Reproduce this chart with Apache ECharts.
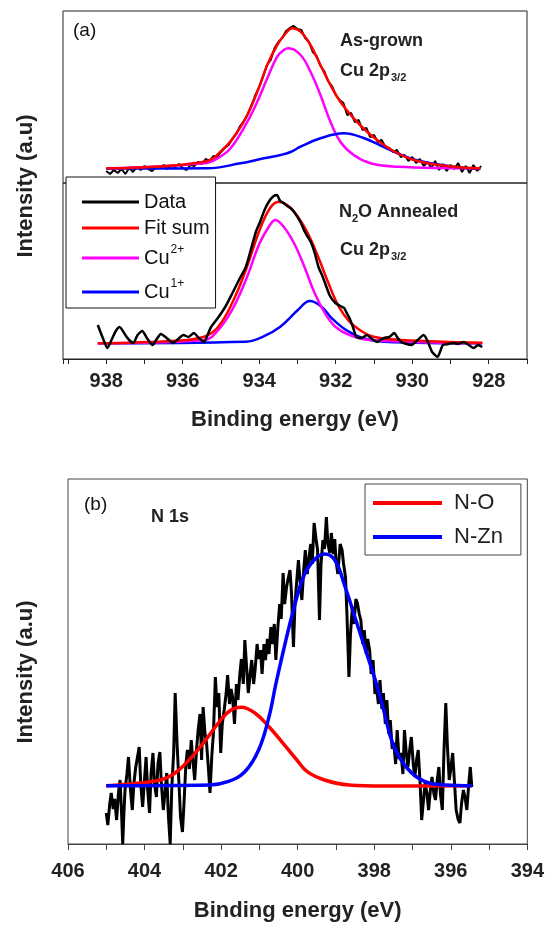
<!DOCTYPE html>
<html>
<head>
<meta charset="utf-8">
<script src="https://cdn.jsdelivr.net/npm/echarts@6/dist/echarts.min.js"></script>
<style>
  html, body { margin: 0; padding: 0; background: #fff; }
  #chart { width: 547px; height: 927px; }
</style>
</head>
<body>
<div id="chart"></div>
<script>
// (a) top: as-grown Cu 2p3/2  [binding energy, intensity]
var asGrownData = [
  [938.0,12],[937.9,9],[937.8,13],[937.7,10],[937.6,14],[937.5,9],[937.4,15],[937.3,11],[937.2,16],[937.1,13],
  [937.0,17],[936.9,14],[936.8,12],[936.7,16],[936.6,15],[936.5,18],[936.4,14],[936.3,17],[936.2,16],[936.1,19],
  [936.0,15],[935.9,13],[935.8,18],[935.7,17],[935.6,21],[935.5,19],[935.4,24],[935.3,22],[935.2,27],[935.1,26],
  [935.0,31],[934.9,35],[934.8,38],[934.7,44],[934.6,49],[934.5,57],[934.4,62],[934.3,69],[934.2,78],[934.1,88],
  [934.0,96],[933.9,106],[933.8,118],[933.7,123],[933.6,135],[933.5,141],[933.4,145],[933.3,152],[933.2,155],[933.1,157],
  [933.0,154],[932.9,153],[932.8,145],[932.7,141],[932.6,131],[932.5,127],[932.4,117],[932.3,112],[932.2,102],[932.1,97],
  [932.0,88],[931.9,83],[931.8,80],[931.7,68],[931.6,70],[931.5,61],[931.4,63],[931.3,53],[931.2,55],[931.1,46],
  [931.0,48],[930.9,41],[930.8,43],[930.7,36],[930.6,35],[930.5,31],[930.4,33],[930.3,26],[930.2,28],[930.1,22],
  [930.0,26],[929.9,20],[929.8,24],[929.7,17],[929.6,21],[929.5,15],[929.4,22],[929.3,13],[929.2,19],[929.1,12],
  [929.0,18],[928.9,14],[928.8,20],[928.7,11],[928.6,17],[928.5,10],[928.4,18],[928.3,12],[928.2,17]
];
var asGrownFit = [
  [938.0,14.7],[935.44,21.3],[934.92,34.7],[934.57,51.3],[934.31,68],[934.05,91.3],[933.79,118],[933.53,138],
  [933.3,150],[933.14,154.7],[932.92,151.3],[932.66,138],[932.40,118],[932.14,98],[931.88,81.3],[931.53,64.7],
  [931.18,51.3],[930.83,40.5],[930.40,30],[929.96,23],[929.44,18.7],[928.92,16.3],[928.22,14.5]
];
var asGrownCu2 = [
  [938.0,14.5],[935.44,19.7],[935.09,24.7],[934.75,34.7],[934.31,61.3],[934.05,81.3],[933.79,104.7],[933.53,126.3],
  [933.36,133],[933.23,134.7],[932.92,128],[932.66,111.3],[932.40,88],[932.14,61.3],[931.88,41.3],[931.53,28],
  [931.09,19.7],[930.40,16.3],[928.22,14.7]
];
var asGrownCu1 = [
  [938.0,14.5],[935.36,14.7],[934.49,19.7],[933.88,24.7],[933.44,28],[933.18,31],[932.92,36.3],[932.40,44.7],
  [931.79,49.7],[931.27,45],[930.83,37.5],[930.40,30],[929.96,23.5],[929.44,19.2],[928.92,16.3],[928.22,14]
];

// (a) bottom: N2O annealed Cu 2p3/2
var annealData = [
  [938.22,34],[938.10,22],[937.97,11],[937.85,20],[937.75,28],[937.65,32],[937.50,24],[937.40,19],[937.29,16],[937.18,24],
  [937.06,28],[936.92,20],[936.79,14],[936.68,20],[936.57,25],[936.42,21],[936.30,17],[936.25,16],[936.12,20],[935.98,24],
  [935.85,22],[935.71,26],[935.58,21],[935.44,17],[935.35,24],[935.26,32],[935.10,40],[934.89,52],[934.70,66],[934.53,79],
  [934.35,92],[934.20,112],[934.08,128],[933.99,136],[933.85,150],[933.72,159],[933.62,163],[933.54,164],[933.45,158],[933.36,156],
  [933.27,153],[933.18,151],[933.05,145],[932.91,136],[932.82,128],[932.73,122],[932.64,116],[932.55,106],[932.45,92],[932.36,84],
  [932.28,76],[932.15,63],[932.01,56],[931.88,53],[931.78,51],[931.70,45],[931.64,41],[931.55,32],[931.46,22],[931.32,21],
  [931.19,24],[931.05,20],[930.92,17],[930.83,19],[930.74,21],[930.60,22],[930.47,26],[930.38,21],[930.29,17],[930.15,15],
  [930.02,14],[929.86,19],[929.70,24],[929.60,18],[929.48,7],[929.34,2],[929.20,14],[929.05,15],[928.93,16],[928.80,15],
  [928.66,17],[928.52,14],[928.39,11],[928.28,14],[928.17,12]
];
var annealFit = [
  [938.22,15.7],[936.2,18.3],[935.44,22.3],[935.07,32.3],[934.71,55.7],[934.35,89],[933.99,129],[933.72,150.7],
  [933.50,157.3],[933.27,154],[932.99,142.3],[932.73,125.7],[932.46,102.3],[932.19,75.7],[931.92,52.3],[931.64,37.3],
  [931.37,29],[931.01,22.3],[930.29,19],[928.17,16.3]
];
var annealCu2 = [
  [938.22,15.7],[935.44,19],[935.07,29],[934.71,49],[934.35,79],[933.99,115.7],[933.72,134],[933.58,139],
  [933.36,132.3],[933.09,115.7],[932.82,92.3],[932.55,65.7],[932.28,45.7],[932.01,32.3],[931.64,24],[931.10,19],
  [928.17,15.7]
];
var annealCu1 = [
  [938.22,15.7],[934.35,17.3],[933.90,22.3],[933.45,32.3],[932.99,49],[932.68,58],[932.37,52.3],[932.10,40.7],
  [931.73,29],[931.28,20.7],[930.74,17.3],[928.17,15.7]
];

// (b) N 1s
var n1sData = [
  [405.00,31],[404.96,19],[404.91,40],[404.87,51],[404.82,35],[404.78,45],[404.73,24],[404.68,52],[404.64,64],[404.60,30],
  [404.57,0],[404.54,30],[404.51,54],[404.46,70],[404.42,87],[404.37,55],[404.32,34],[404.28,60],[404.23,77],[404.18,88],
  [404.14,97],[404.10,60],[404.05,37],[404.00,65],[403.96,87],[403.92,55],[403.87,31],[403.83,70],[403.78,91],[403.74,60],
  [403.69,47],[403.65,80],[403.60,92],[403.56,60],[403.51,34],[403.47,50],[403.42,71],[403.38,30],[403.33,0],[403.29,55],
  [403.24,91],[403.20,151],[403.15,100],[403.10,60],[403.06,27],[403.01,12],[402.97,40],[402.92,80],[402.88,94],[402.83,75],
  [402.78,104],[402.74,85],[402.69,64],[402.64,95],[402.60,114],[402.55,130],[402.51,84],[402.47,137],[402.42,110],[402.38,101],
  [402.33,75],[402.29,51],[402.24,90],[402.20,111],[402.15,167],[402.11,137],[402.06,151],[402.01,91],[401.97,120],[401.92,134],
  [401.87,150],[401.83,169],[401.78,140],[401.74,155],[401.70,147],[401.65,120],[401.60,160],[401.56,144],[401.51,170],[401.47,185],
  [401.42,160],[401.38,204],[401.33,175],[401.29,151],[401.24,170],[401.20,184],[401.15,160],[401.11,175],[401.06,200],[401.02,185],
  [400.97,194],[400.93,170],[400.88,200],[400.84,184],[400.79,205],[400.75,190],[400.70,217],[400.66,200],[400.61,220],[400.57,184],
  [400.52,215],[400.47,240],[400.43,225],[400.38,271],[400.34,240],[400.29,257],[400.25,265],[400.20,274],[400.16,250],[400.11,197],
  [400.07,240],[400.02,265],[399.98,284],[399.93,260],[399.89,244],[399.84,275],[399.80,294],[399.75,270],[399.71,284],[399.66,300],
  [399.62,280],[399.57,321],[399.52,305],[399.48,294],[399.43,224],[399.39,280],[399.34,304],[399.30,295],[399.25,327],[399.21,300],
  [399.16,291],[399.12,311],[399.07,290],[399.03,305],[399.00,284],[398.95,270],[398.89,300],[398.84,294],[398.80,280],[398.75,267],
  [398.71,227],[398.66,167],[398.62,210],[398.57,237],[398.53,220],[398.48,245],[398.44,241],[398.39,230],[398.35,224],[398.30,200],
  [398.26,214],[398.21,190],[398.17,205],[398.12,194],[398.08,170],[398.03,184],[397.98,150],[397.94,157],[397.89,140],[397.85,164],
  [397.80,135],[397.76,151],[397.71,120],[397.67,144],[397.62,110],[397.58,124],[397.53,95],[397.49,101],[397.44,80],[397.40,114],
  [397.35,85],[397.30,91],[397.25,70],[397.21,114],[397.16,90],[397.12,77],[397.07,95],[397.03,107],[396.98,80],[396.94,67],
  [396.89,85],[396.85,94],[396.80,60],[396.76,24],[396.71,45],[396.67,61],[396.62,50],[396.58,34],[396.53,55],[396.49,67],
  [396.44,50],[396.40,44],[396.35,65],[396.31,77],[396.27,50],[396.22,34],[396.18,90],[396.13,141],[396.09,100],[396.04,64],
  [396.00,75],[395.95,91],[395.90,60],[395.86,34],[395.81,25],[395.76,21],[395.72,40],[395.67,54],[395.62,45],[395.58,34],
  [395.53,60],[395.49,77],[395.45,57]
];
var n1sNO = [
  [405.0,58.3],[404.19,60.7],[403.46,65.7],[403.01,77.3],[402.47,100.7],[402.01,124],[401.74,134],[401.47,136.7],
  [401.11,130.7],[400.75,117.3],[400.38,100.7],[400.02,84],[399.75,72.3],[399.30,64],[398.66,59],[397.76,58],[395.45,58.3]
];
var n1sNZn = [
  [405.0,58.3],[402.29,59],[401.83,62.3],[401.38,72.3],[401.02,94],[400.75,127],[400.57,160],[400.38,192],
  [400.11,234],[399.84,268],[399.57,284],[399.30,290],[399.03,284],[398.75,256],[398.48,224],[398.21,192],
  [397.94,160],[397.76,135],[397.49,98],[397.12,75],[396.67,62.3],[396.13,59],[395.45,58.3]
];

var FONT = '"Liberation Sans", Arial, sans-serif';

function evenLabel(v) {
  var r = Math.round(v);
  return r % 2 === 0 ? String(r) : '';
}

function line(name, data, color, width, gi, smooth, z) {
  return {
    name: name, type: 'line', data: data,
    xAxisIndex: gi, yAxisIndex: gi,
    showSymbol: false, symbol: 'none', smooth: smooth,
    lineStyle: { color: color, width: width },
    itemStyle: { color: color },
    z: z, silent: true
  };
}

var hiddenY = function (gi, max) {
  return { type: 'value', gridIndex: gi, min: 0, max: max, show: false };
};

var chart = echarts.init(document.getElementById('chart'));
chart.setOption({
  animation: false,
  backgroundColor: '#fff',
  textStyle: { fontFamily: FONT },
  grid: [
    { left: 63, width: 464, top: 11, height: 172, show: true, borderColor: '#222', borderWidth: 1, backgroundColor: 'transparent' },
    { left: 63, width: 464, top: 183, height: 176, show: true, borderColor: '#222', borderWidth: 1, backgroundColor: 'transparent' },
    { left: 68, width: 460, top: 479, height: 365, show: true, borderColor: '#444', borderWidth: 1, backgroundColor: 'transparent' }
  ],
  xAxis: [
    { type: 'value', gridIndex: 0, min: 927, max: 939.13, inverse: true, show: false },
    {
      type: 'value', gridIndex: 1, min: 927, max: 939.13, interval: 1, inverse: true,
      axisLine: { show: true, lineStyle: { color: '#222', width: 1 } },
      axisTick: { show: true, length: 5, lineStyle: { color: '#222' } },
      splitLine: { show: false },
      axisLabel: { formatter: evenLabel, color: '#222', fontSize: 20, fontWeight: 'bold', margin: 12, fontFamily: FONT },
      name: 'Binding energy (eV)', nameLocation: 'middle', nameGap: 50,
      nameTextStyle: { color: '#222', fontSize: 22, fontWeight: 'bold', fontFamily: FONT }
    },
    {
      type: 'value', gridIndex: 2, min: 394, max: 406, interval: 1, inverse: true,
      axisLine: { show: true, lineStyle: { color: '#444', width: 1 } },
      axisTick: { show: true, length: 6, lineStyle: { color: '#444' } },
      splitLine: { show: false },
      axisLabel: { formatter: evenLabel, color: '#222', fontSize: 20, fontWeight: 'bold', margin: 17, fontFamily: FONT },
      name: 'Binding energy (eV)', nameLocation: 'middle', nameGap: 56,
      nameTextStyle: { color: '#222', fontSize: 22, fontWeight: 'bold', fontFamily: FONT }
    }
  ],
  yAxis: [hiddenY(0, 172), hiddenY(1, 176), hiddenY(2, 365)],
  legend: [
    {
      data: ['Data', 'Fit sum', 'Cu2+', 'Cu1+'],
      orient: 'vertical', left: 66, top: 177,
      padding: [15, 6, 2, 16], itemGap: 6, itemWidth: 57, itemHeight: 3,
      icon: 'rect',
      backgroundColor: '#fff', borderColor: '#111', borderWidth: 1,
      selectedMode: false, z: 10,
      formatter: function (name) {
        if (name === 'Cu2+') return '{t|Cu}{s|2+}';
        if (name === 'Cu1+') return '{t|Cu}{s|1+}';
        return '{t|' + name + '}';
      },
      textStyle: {
        color: '#111', fontFamily: FONT,
        rich: {
          t: { fontSize: 20, lineHeight: 22, fontFamily: FONT, color: '#111' },
          s: { fontSize: 12, lineHeight: 10, padding: [0, 0, 16, 1], fontFamily: FONT, color: '#111' }
        }
      }
    },
    {
      data: ['N-O', 'N-Zn'],
      orient: 'vertical', left: 365, top: 484,
      padding: [8, 18, 7, 8], itemGap: 12, itemWidth: 69, itemHeight: 4,
      icon: 'rect',
      backgroundColor: '#fff', borderColor: '#444', borderWidth: 1,
      selectedMode: false, z: 10,
      formatter: function (name) { return '{t|' + name + '}'; },
      textStyle: {
        color: '#222', fontFamily: FONT,
        rich: { t: { fontSize: 22, lineHeight: 24, padding: [0, 0, 0, 7], fontFamily: FONT, color: '#222' } }
      }
    }
  ],
  graphic: [
    { type: 'text', left: 73, top: 21, style: { text: '(a)', font: '19px ' + FONT, fill: '#111' } },
    { type: 'text', left: 340, top: 32, style: { text: 'As-grown', font: 'bold 18px ' + FONT, fill: '#222' } },
    {
      type: 'text', left: 340, top: 59,
      style: {
        text: '{a|Cu 2p}{s|3/2}', fill: '#222',
        rich: {
          a: { font: 'bold 18px ' + FONT, lineHeight: 20 },
          s: { font: 'bold 11px ' + FONT, lineHeight: 11, padding: [13, 0, 0, 1] }
        }
      }
    },
    {
      type: 'text', left: 339, top: 200,
      style: {
        text: '{a|N}{s|2}{a|O Annealed}', fill: '#222',
        rich: {
          a: { font: 'bold 18px ' + FONT, lineHeight: 20 },
          s: { font: 'bold 11px ' + FONT, lineHeight: 11, padding: [13, 0, 0, 0] }
        }
      }
    },
    {
      type: 'text', left: 340, top: 238,
      style: {
        text: '{a|Cu 2p}{s|3/2}', fill: '#222',
        rich: {
          a: { font: 'bold 18px ' + FONT, lineHeight: 20 },
          s: { font: 'bold 11px ' + FONT, lineHeight: 11, padding: [13, 0, 0, 1] }
        }
      }
    },
    { type: 'text', left: 84, top: 495, style: { text: '(b)', font: '19px ' + FONT, fill: '#111' } },
    { type: 'text', left: 151, top: 508, style: { text: 'N 1s', font: 'bold 18px ' + FONT, fill: '#222' } },
    {
      type: 'text', x: 26, y: 186, rotation: Math.PI / 2,
      style: { text: 'Intensity (a.u)', font: 'bold 22px ' + FONT, fill: '#222', align: 'center', verticalAlign: 'middle' }
    },
    {
      type: 'text', x: 26, y: 672, rotation: Math.PI / 2,
      style: { text: 'Intensity (a.u)', font: 'bold 22px ' + FONT, fill: '#222', align: 'center', verticalAlign: 'middle' }
    }
  ],
  series: [
    line('Data', asGrownData, '#000000', 2, 0, false, 2),
    line('Cu2+', asGrownCu2, '#ff00ff', 2.5, 0, 0.4, 3),
    line('Cu1+', asGrownCu1, '#0000ff', 2.5, 0, 0.4, 4),
    line('Fit sum', asGrownFit, '#ff0000', 2.5, 0, 0.4, 5),

    line('Cu1+', annealCu1, '#0000ff', 2.5, 1, 0.4, 2),
    line('Cu2+', annealCu2, '#ff00ff', 2.5, 1, 0.4, 3),
    line('Fit sum', annealFit, '#ff0000', 2.5, 1, 0.4, 4),
    line('Data', annealData, '#000000', 2.5, 1, 0.2, 5),

    line('N 1s data', n1sData, '#000000', 3, 2, false, 2),
    line('N-O', n1sNO, '#ff0000', 3.5, 2, 0.4, 3),
    line('N-Zn', n1sNZn, '#0000ff', 3.5, 2, 0.4, 4)
  ]
});
</script>
</body>
</html>
